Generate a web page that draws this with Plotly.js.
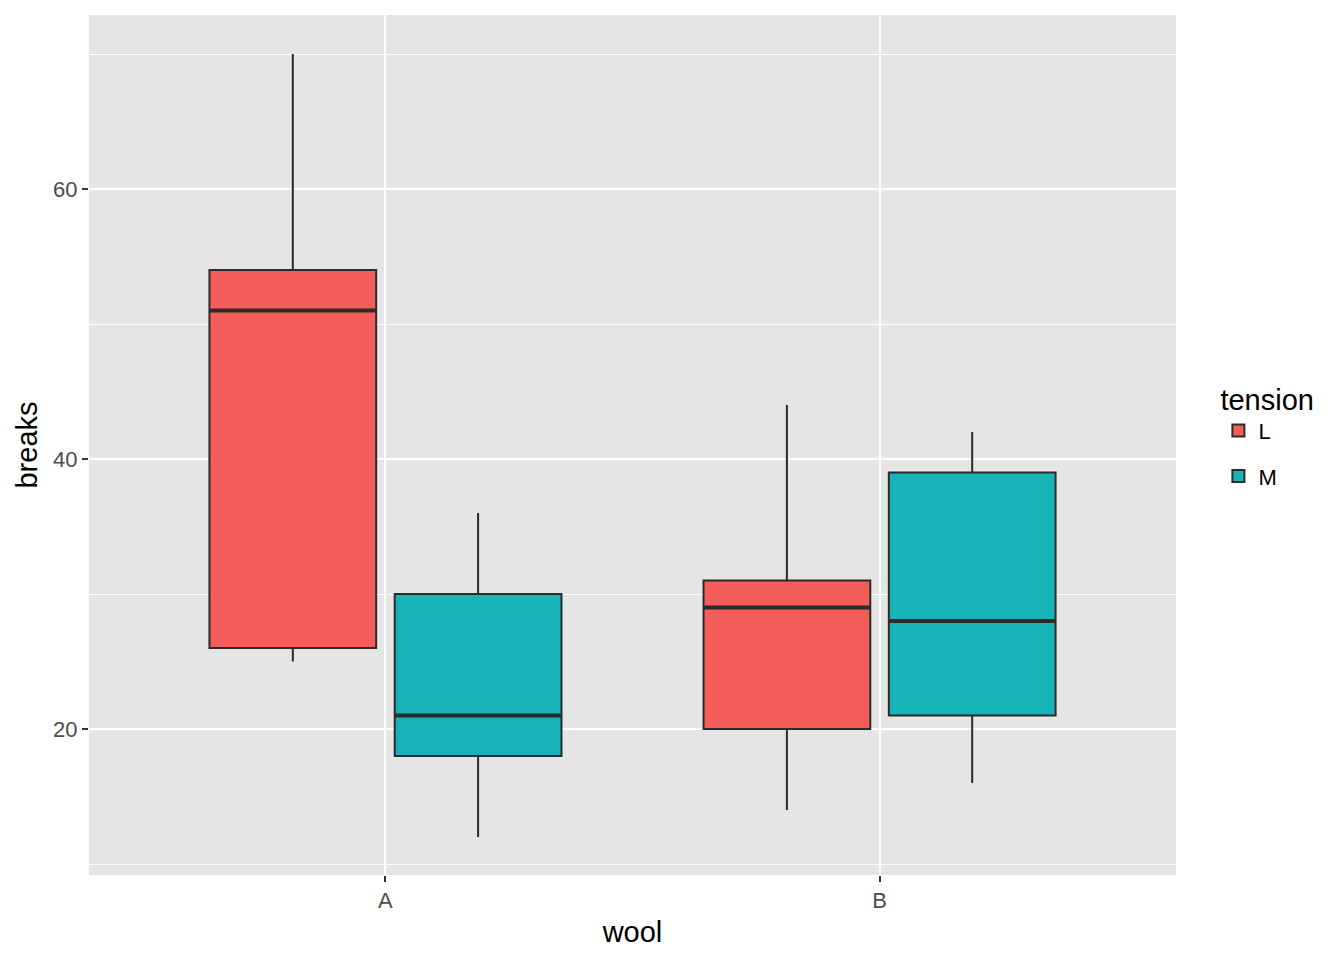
<!DOCTYPE html>
<html>
<head>
<meta charset="utf-8">
<script src="https://cdn.plot.ly/plotly-3.0.1.min.js"></script>
<style>html,body{margin:0;padding:0;background:#fff}</style>
</head>
<body>
<div id="chart" style="width:1344px;height:960px"></div>
<script>
// warpbreaks (tension L and M) box statistics
const wool = ["A", "B"];
const tensionLevels = ["L", "M"];
const lowerL = [25, 14];
const q1L = [26, 20];
const medianL = [51, 29];
const q3L = [54, 31];
const upperL = [70, 44];
const lowerM = [12, 16];
const q1M = [18, 21];
const medianM = [21, 28];
const q3M = [30, 39];
const upperM = [36, 42];
const yTicks = [20, 40, 60];

const fills = {L: "#F45E5A", M: "#18B3B9"};
const edge = "#2B2B2B";

function boxTrace(name, lo, q1, med, q3, hi) {
  return {
    type: "box", name: name, x: wool,
    lowerfence: lo, q1: q1, median: med, q3: q3, upperfence: hi,
    fillcolor: fills[name], line: {color: edge, width: 2},
    whiskerwidth: 0, offsetgroup: name, legendgroup: name,
    boxpoints: false, hoverinfo: "y"
  };
}
function medTrace(name, med) {
  return {
    type: "box", name: name, x: wool,
    lowerfence: med, q1: med, median: med, q3: med, upperfence: med,
    fillcolor: "rgba(0,0,0,0)", line: {color: edge, width: 4},
    whiskerwidth: 0, offsetgroup: name, legendgroup: name,
    showlegend: false, boxpoints: false, hoverinfo: "skip"
  };
}

const data = [
  boxTrace("L", lowerL, q1L, medianL, q3L, upperL),
  boxTrace("M", lowerM, q1M, medianM, q3M, upperM),
  medTrace("L", medianL),
  medTrace("M", medianM)
];

const layout = {
  width: 1344, height: 960,
  margin: {l: 89, r: 168, t: 15, b: 85},
  paper_bgcolor: "#FFFFFF", plot_bgcolor: "#E5E5E5",
  font: {family: "Liberation Sans, Arial, sans-serif", color: "#000"},
  boxmode: "group", boxgap: 0.25, boxgroupgap: 0.1,
  xaxis: {
    type: "category", categoryorder: "array", categoryarray: wool,
    range: [-0.6, 1.6], showgrid: true, gridcolor: "#FFFFFF", gridwidth: 2,
    zeroline: false, showline: false, automargin: false,
    ticks: "outside", ticklen: 6, tickwidth: 2, tickcolor: "#333333",
    tickfont: {size: 22, color: "#4D4D4D"},
    title: {text: "wool", font: {size: 29, color: "#000"}, standoff: 9}
  },
  yaxis: {
    range: [9.19, 72.89], tickmode: "array", tickvals: yTicks,
    ticktext: yTicks.map(String),
    showgrid: true, gridcolor: "#FFFFFF", gridwidth: 2,
    minor: {tickmode: "linear", tick0: 0, dtick: 10, showgrid: true, gridcolor: "#FFFFFF", gridwidth: 1, ticks: ""},
    zeroline: false, showline: false, automargin: false,
    ticks: "outside", ticklen: 6, tickwidth: 2, tickcolor: "#333333",
    tickfont: {size: 22, color: "#4D4D4D"},
    title: {text: "breaks", font: {size: 29, color: "#000"}, standoff: 6}
  },
  showlegend: true,
  legend: {
    x: 1.039, y: 0.585, xanchor: "left", yanchor: "top",
    title: {text: "tension", font: {size: 29, color: "#000"}},
    font: {size: 22, color: "#000"},
    tracegroupgap: 14, bgcolor: "rgba(0,0,0,0)"
  }
};

Plotly.newPlot("chart", data, layout, {displayModeBar: false, staticPlot: true});
</script>
</body>
</html>
